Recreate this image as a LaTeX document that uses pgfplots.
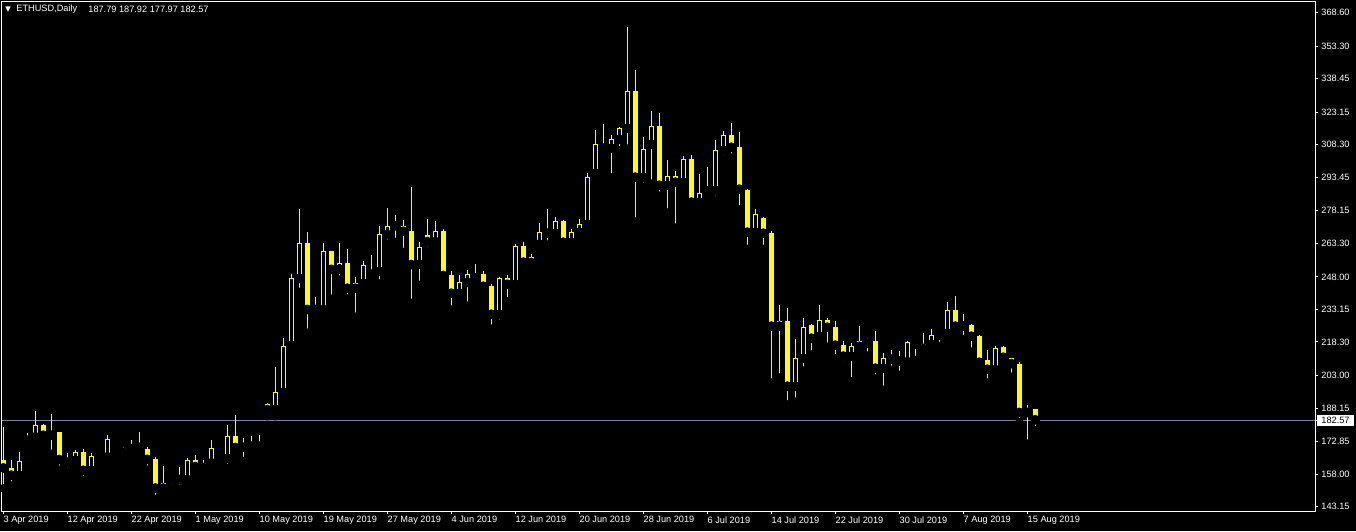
\documentclass[border=0pt]{standalone}
\usepackage{pgfplots}
\pgfplotsset{compat=1.18}
\usepackage{pgfplotstable}
\usepackage{fontspec}
\setmainfont{Liberation Sans}
\newfontfamily\dejavu{DejaVu Sans}
\definecolor{cyel}{RGB}{255,255,0}
\definecolor{bidline}{RGB}{119,136,153}
\newcommand{\lblfont}{\fontsize{4.6}{5}\selectfont}

\pgfplotstableread{
x o h l c
0 164.4 179.6 151.5 160.6
1 160.6 164.4 152.7 157.3
2 157.3 168.1 154.1 163.8
3 173.2 176.7 170.9 174.8
4 174.8 186.8 173.2 180.4
5 180.4 180.9 174.0 175.5
6 175.5 185.4 167.2 177.2
7 177.2 177.2 159.9 164.4
8 164.9 167.6 159.1 163.2
9 164.1 169.0 163.6 168.1
10 168.1 169.4 155.3 159.5
11 159.5 167.7 158.6 166.2
12 166.0 168.5 163.9 166.3
13 165.7 175.8 165.3 174.0
14 174.0 174.6 168.5 172.2
15 167.7 170.5 167.7 169.9
16 169.4 173.5 167.6 171.2
17 171.2 177.2 168.7 170.0
18 169.4 170.3 159.9 164.5
19 165.0 165.9 146.6 151.4
20 151.4 161.7 148.1 153.9
21 157.4 157.4 155.3 156.7
22 156.7 161.1 151.3 155.3
23 155.3 165.3 154.8 164.4
24 164.4 166.7 159.0 161.2
25 160.8 164.4 159.0 163.1
26 162.9 173.5 160.8 169.9
27 165.7 166.7 163.9 164.9
28 165.0 180.4 160.8 175.4
29 175.4 184.9 169.0 169.9
30 170.0 174.5 163.9 172.2
31 172.2 175.4 166.6 170.5
32 171.2 175.8 167.5 170.5
33 190.0 190.4 184.5 187.2
34 187.4 206.9 184.5 195.5
35 195.1 220.0 193.6 216.4
36 216.6 249.3 216.2 247.5
37 247.1 278.9 241.1 263.4
38 263.4 268.5 222.5 232.9
39 232.9 239.0 232.5 233.3
40 232.9 263.6 231.2 259.9
41 259.8 259.8 238.0 251.2
42 251.2 263.5 246.7 254.3
43 254.3 260.7 238.0 242.6
44 242.6 248.0 229.8 245.2
45 244.9 255.4 241.6 253.4
46 249.0 258.0 247.2 250.7
47 250.3 271.2 244.9 267.6
48 267.2 279.4 263.1 271.2
49 271.1 276.2 263.9 271.2
50 271.2 274.0 259.3 268.6
51 268.9 288.8 236.1 253.4
52 253.6 263.9 244.3 261.5
53 267.1 274.4 259.9 263.9
54 263.9 273.5 263.0 268.9
55 268.9 269.9 245.7 248.4
56 248.8 250.7 233.0 240.3
57 240.3 248.8 237.1 245.7
58 245.3 251.1 234.8 249.3
59 249.3 253.9 244.3 247.2
60 249.3 250.7 241.2 243.5
61 243.8 244.7 224.3 230.7
62 230.7 248.0 226.6 247.5
63 247.5 248.8 236.7 244.4
64 244.4 263.0 242.1 262.1
65 262.1 263.9 253.6 254.5
66 254.3 258.4 253.0 256.9
67 262.7 272.6 260.7 268.5
68 269.1 279.0 262.7 267.7
69 267.7 275.3 266.6 273.5
70 273.5 274.0 259.9 263.6
71 263.6 269.9 262.5 268.5
72 268.2 274.4 265.7 272.1
73 271.8 295.4 271.4 293.6
74 295.1 315.0 292.4 308.6
75 308.6 317.8 302.8 306.5
76 306.5 312.7 293.3 311.0
77 310.6 316.4 305.6 316.0
78 315.6 362.0 306.5 332.8
79 332.8 342.4 273.2 293.3
80 293.3 311.8 289.1 306.4
81 308.3 323.7 290.5 316.9
82 316.9 322.8 285.0 289.6
83 289.6 301.3 277.3 294.0
84 294.0 296.3 270.4 291.0
85 291.0 303.2 288.7 301.8
86 301.8 303.6 279.1 281.9
87 281.9 295.0 279.1 286.3
88 287.6 298.1 284.1 286.9
89 287.3 310.5 283.2 305.9
90 305.6 314.6 301.5 312.7
91 312.7 318.2 302.4 306.9
92 307.3 314.1 278.7 287.8
93 287.8 288.1 260.7 268.2
94 268.2 279.0 265.3 276.7
95 274.9 275.3 260.7 267.7
96 268.0 268.9 199.7 225.3
97 225.3 235.2 202.0 227.9
98 227.9 233.8 189.7 197.9
99 197.9 219.6 191.0 211.0
100 210.6 229.4 205.2 225.0
101 226.0 226.5 212.5 219.8
102 220.7 235.2 219.3 228.3
103 228.3 229.2 216.1 224.8
104 225.1 227.9 210.7 216.6
105 216.9 218.7 207.5 211.6
106 211.6 217.8 200.2 216.4
107 216.1 225.6 214.8 218.7
108 218.7 220.1 212.0 217.5
109 218.7 223.3 201.5 206.1
110 206.1 213.2 196.4 210.8
111 211.0 214.6 205.5 210.2
112 210.5 214.2 203.2 209.3
113 209.1 218.7 208.8 218.3
114 218.3 219.2 210.0 217.0
115 217.4 222.4 214.2 215.1
116 217.0 224.2 215.5 221.5
117 221.2 223.3 216.4 222.4
118 222.1 236.5 222.1 232.9
119 232.9 239.3 222.1 225.3
120 226.2 231.0 219.6 225.3
121 226.0 226.5 213.8 220.7
122 221.0 221.5 206.1 208.8
123 210.0 214.6 199.7 205.6
124 205.5 216.4 205.2 215.5
125 216.0 216.4 208.8 211.1
126 211.0 211.0 202.4 208.2
127 208.2 209.1 181.5 185.9
128 185.9 189.5 171.8 187.7
129 187.79 187.92 177.97 182.57
}\candles

\begin{document}
\begin{tikzpicture}
\path[use as bounding box, fill=black] (0,0) rectangle (678pt,265.5pt);
\begin{axis}[
  at={(1pt,10pt)}, anchor=south west,
  scale only axis, width=656.5pt, height=254.5pt,
  xmin=-0.1625, xmax=163.96, ymin=141.15, ymax=373.45,
  axis background/.style={fill=black},
  axis line style={white, line width=0.5pt},
  tick style={white, line width=0.5pt},
  major tick length=1.5pt,
  tick align=outside,
  xtick pos=bottom, ytick pos=right, yticklabel pos=right,
  xtick={0,8,...,128},
  xticklabels={3 Apr 2019,12 Apr 2019,22 Apr 2019,1 May 2019,10 May 2019,19 May 2019,27 May 2019,4 Jun 2019,12 Jun 2019,20 Jun 2019,28 Jun 2019,6 Jul 2019,14 Jul 2019,22 Jul 2019,30 Jul 2019,7 Aug 2019,15 Aug 2019},
  ytick={143.15,158.00,172.85,188.15,203.00,218.30,233.15,248.00,263.30,278.15,293.45,308.30,323.15,338.45,353.30,368.60},
  yticklabels={143.15,158.00,172.85,188.15,203.00,218.30,233.15,248.00,263.30,278.15,293.45,308.30,323.15,338.45,353.30,368.60},
  ticklabel style={font=\lblfont, text=white},
  xticklabel style={anchor=north west, inner sep=0pt, yshift=-1pt},
  yticklabel style={anchor=west, inner sep=0pt, xshift=1.5pt},
  extra y ticks={182.57},
  extra y tick labels={182.57},
  extra y tick style={yticklabel style={fill=white, text=black, inner xsep=2pt, inner ysep=1pt, xshift=-2pt}},
]
\addplot[bidline, line width=0.5pt] coordinates {(-1,182.57) (170,182.57)};
% wicks
\addplot[only marks, mark=none, error bars/.cd, y dir=plus, y explicit, error mark=none,
  error bar style={draw=cyel, line width=0.5pt}]
  table[x=x, y=l, y error plus expr={\thisrow{h}-\thisrow{l}}] {\candles};
% bodies
\addplot[only marks, mark=none, error bars/.cd, y dir=plus, y explicit, error mark=none,
  error bar style={draw=cyel, line width=2.5pt}]
  table[x=x, y expr={min(\thisrow{o},\thisrow{c})}, y error plus expr={max(abs(\thisrow{c}-\thisrow{o}),0.46)}] {\candles};
% hollow insides of rising candles
\addplot[only marks, mark=none, error bars/.cd, y dir=plus, y explicit, error mark=none,
  error bar style={draw=black, line width=1.5pt}]
  table[x=x, y expr={min(\thisrow{o},\thisrow{c})+0.456}, y error plus expr={(\thisrow{c}>\thisrow{o})*max(\thisrow{c}-\thisrow{o}-0.913,0)}] {\candles};
\end{axis}
\node[anchor=west, inner sep=0pt, text=white, font=\dejavu\fontsize{3.6}{4}\selectfont] at (2.5pt,260.8pt) {▼};
\node[anchor=west, inner sep=0pt, text=white, font=\lblfont] at (8pt,260.8pt) {ETHUSD,Daily};
\node[anchor=west, inner sep=0pt, text=white, font=\lblfont] at (44pt,260.8pt) {187.79 187.92 177.97 182.57};
\end{tikzpicture}
\end{document}
